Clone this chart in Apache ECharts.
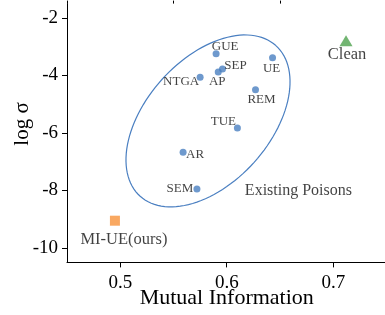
<html>
<head>
    <script src="https://cdn.jsdelivr.net/npm/echarts@6/dist/echarts.min.js"></script>
    <style>
        body { margin: 0; background: #fff; }
        #graph { width: 385px; height: 315px; }
    </style>
</head>
<body>
    <div id="graph"></div>
    <script>
        // existing poisons
        var poisonNames = ['GUE', 'SEP', 'AP', 'NTGA', 'UE', 'REM', 'TUE', 'AR', 'SEM'];
        var poisonMI = [0.590, 0.596, 0.592, 0.575, 0.643, 0.627, 0.610, 0.559, 0.572];
        var poisonLogSigma = [-3.24, -3.77, -3.88, -4.06, -3.38, -4.50, -5.83, -6.67, -7.95];

        var oursName = 'MI-UE(ours)';
        var oursMI = [0.495];
        var oursLogSigma = [-9.05];

        var cleanName = 'Clean';
        var cleanMI = [0.712];
        var cleanLogSigma = [-2.79];

        var groupLabel = 'Existing Poisons';

        var xMajorTicks = [0.5, 0.6, 0.7];
        var xMinorTicks = [0.45, 0.55, 0.65, 0.75];
        var yMajorTicks = [-10, -8, -6, -4, -2];
        var yMinorTicks = [-9, -7, -5, -3];

        // label offsets (px, from point to label centre)
        var labelOffsets = {
            GUE: [9, -7], SEP: [13, -3], AP: [-1, 10], NTGA: [-19, 4], UE: [-1, 11],
            REM: [6, 10], TUE: [-14, -7], AR: [12, 2], SEM: [-17, 0]
        };

        // ellipse round the existing poisons, in data units
        var ellipseCenter = [0.5824, -5.58];
        var ellipseMajor = [0.0637, 2.62];
        var ellipseMinor = [-0.0433, 1.44];

        var serif = 'Liberation Serif';
        var blue = '#4a7fc1';

        var chart = echarts.init(document.getElementById('graph'));

        var poisonData = poisonNames.map(function (n, i) {
            return {
                name: n,
                value: [poisonMI[i], poisonLogSigma[i]],
                label: { offset: labelOffsets[n] }
            };
        });

        function axisBase(extra) {
            return Object.assign({
                type: 'value',
                splitLine: { show: false },
                axisLine: { show: true, onZero: false, lineStyle: { color: '#000', width: 1 } },
                axisTick: { show: true, length: 5, lineStyle: { color: '#000' } },
                axisLabel: { color: '#000', fontFamily: serif, fontSize: 19, margin: 8 }
            }, extra);
        }

        var option = {
            animation: false,
            grid: { left: 67, top: 3.6, right: -1.5, bottom: 52.6, containLabel: false, outerBoundsMode: 'none' },
            xAxis: [
                axisBase({
                    min: 0.45, max: 0.75,
                    name: 'Mutual Information',
                    nameLocation: 'middle', nameGap: 25, nameMoveOverlap: false,
                    nameTextStyle: { color: '#000', fontFamily: serif, fontSize: 22 },
                    axisTick: { show: true, length: 5, customValues: xMajorTicks, lineStyle: { color: '#000' } },
                    axisLabel: { color: '#000', fontFamily: serif, fontSize: 19, margin: 11, customValues: xMajorTicks }
                }),
                axisBase({
                    min: 0.45, max: 0.75,
                    axisLine: { show: false },
                    axisTick: { show: true, length: 3, customValues: xMinorTicks, lineStyle: { color: '#000' } },
                    axisLabel: { show: false }
                })
            ],
            yAxis: [
                axisBase({
                    min: -10.5, max: -1.5,
                    name: 'log σ',
                    nameLocation: 'middle', nameGap: 34, nameMoveOverlap: false,
                    nameTextStyle: { color: '#000', fontFamily: serif, fontSize: 21, padding: [0, 0, 0, 18] },
                    axisTick: { show: true, length: 5, customValues: yMajorTicks, lineStyle: { color: '#000' } },
                    axisLabel: { color: '#000', fontFamily: serif, fontSize: 19, margin: 9, customValues: yMajorTicks }
                }),
                axisBase({
                    min: -10.5, max: -1.5,
                    axisLine: { show: false },
                    axisTick: { show: true, length: 3, customValues: yMinorTicks, lineStyle: { color: '#000' } },
                    axisLabel: { show: false }
                })
            ],
            series: [
                {
                    type: 'custom',
                    silent: true,
                    data: [ellipseCenter],
                    renderItem: function (params, api) {
                        var pts = [];
                        for (var k = 0; k <= 120; k++) {
                            var t = k / 120 * Math.PI * 2;
                            var c = Math.cos(t), s = Math.sin(t);
                            pts.push(api.coord([
                                ellipseCenter[0] + ellipseMajor[0] * c + ellipseMinor[0] * s,
                                ellipseCenter[1] + ellipseMajor[1] * c + ellipseMinor[1] * s
                            ]));
                        }
                        return {
                            type: 'polyline',
                            shape: { points: pts },
                            style: { stroke: blue, lineWidth: 1.2, fill: null }
                        };
                    },
                    z: 1
                },
                {
                    type: 'scatter',
                    symbol: 'circle',
                    symbolSize: 7,
                    itemStyle: { color: blue },
                    label: {
                        show: true, position: 'inside', formatter: '{b}',
                        color: '#111', fontFamily: serif, fontSize: 13
                    },
                    data: poisonData,
                    z: 3
                },
                {
                    type: 'scatter',
                    symbol: 'rect',
                    symbolSize: 10,
                    itemStyle: { color: '#f7923a' },
                    label: {
                        show: true, position: 'inside', formatter: '{b}', offset: [9, 19],
                        color: '#111', fontFamily: serif, fontSize: 16.5
                    },
                    data: oursMI.map(function (x, i) { return { name: oursName, value: [x, oursLogSigma[i]] }; }),
                    z: 3
                },
                {
                    type: 'scatter',
                    symbol: 'triangle',
                    symbolSize: [13, 11],
                    itemStyle: { color: '#4fa34f' },
                    label: {
                        show: true, position: 'inside', formatter: '{b}', offset: [1, 14],
                        color: '#111', fontFamily: serif, fontSize: 16.5
                    },
                    data: cleanMI.map(function (x, i) { return { name: cleanName, value: [x, cleanLogSigma[i]] }; }),
                    z: 3
                },
                {
                    type: 'scatter',
                    symbolSize: 0,
                    silent: true,
                    label: {
                        show: true, position: [0, 0], align: 'left', verticalAlign: 'middle',
                        formatter: '{b}', color: '#111', fontFamily: serif, fontSize: 16
                    },
                    data: [{ name: groupLabel, value: [0.617, -8.02] }],
                    z: 3
                }
            ]
        };

        chart.setOption(option);
    </script>
</body>
</html>
